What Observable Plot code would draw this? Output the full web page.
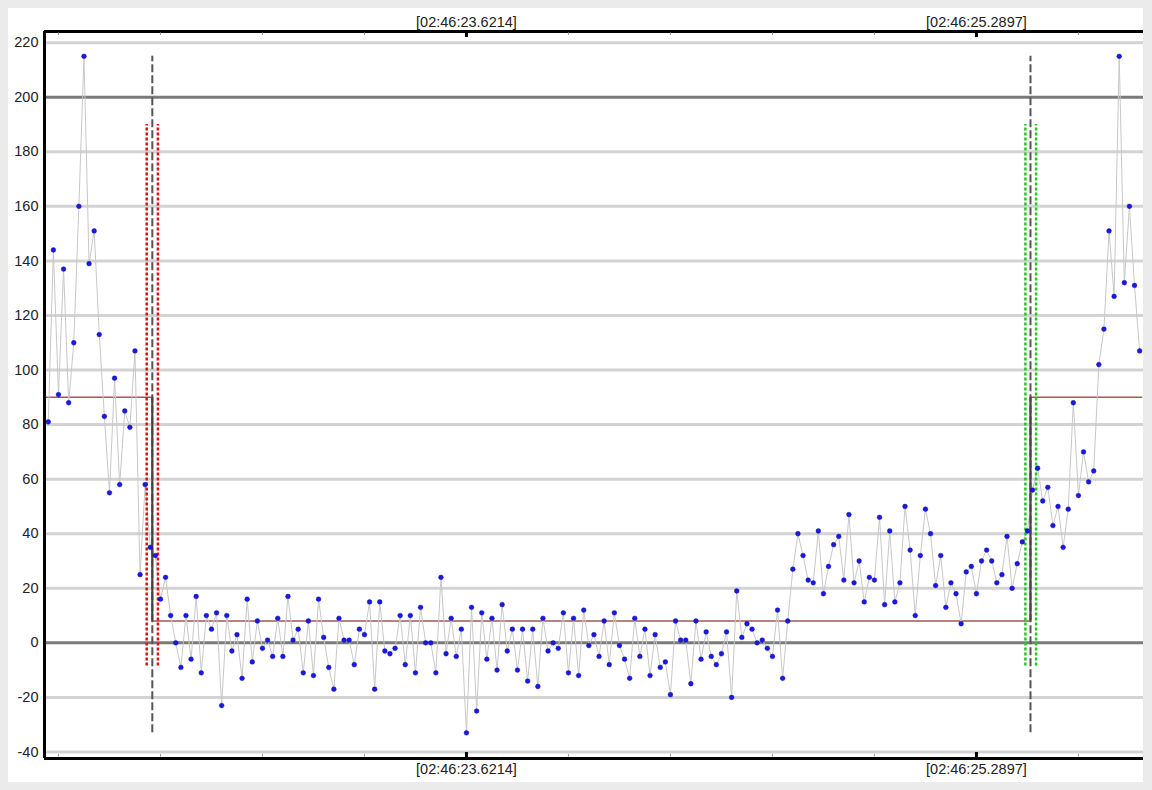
<!DOCTYPE html>
<html>
<head>
<meta charset="utf-8">
<script src="https://cdn.jsdelivr.net/npm/d3@7"></script>
<script src="https://cdn.jsdelivr.net/npm/@observablehq/plot@0.6"></script>
<style>
  html, body { margin: 0; padding: 0; background: #ebebeb; width: 1152px; height: 790px; overflow: hidden; }
  #panel { position: absolute; left: 8px; top: 8px; width: 1135px; height: 774px; background: #ffffff; }
  #chart { position: absolute; left: 0; top: 0; }
</style>
</head>
<body>
<div id="panel"></div>
<div id="chart"></div>
<script>
// ---- data ----
const values = [
  81,144,91,137,88,110,160,215,139,151,113,83,55,97,58,85,79,107,25,58,
  35,32,16,24,10,0,-9,10,-6,17,
  -11,10,5,11,-23,10,-3,3,-13,16,
  -7,8,-2,1,-5,9,-5,17,1,5,
  -11,8,-12,16,2,-9,-17,9,1,1,
  -8,5,3,15,-17,15,-3,-4,-2,10,
  -8,10,-11,13,0,0,-11,24,-4,9,
  -5,5,-33,13,-25,11,-6,9,-10,14,
  -3,5,-10,5,-14,5,-16,9,-3,0,
  -2,11,-11,9,-12,12,-1,3,-5,8,
  -8,11,-1,-6,-13,9,-5,5,-12,3,
  -9,-7,-19,8,1,1,-15,8,-6,4,
  -5,-8,-4,4,-20,19,2,7,5,0,
  1,-2,-5,12,-13,8,27,40,32,23,
  22,41,18,28,36,39,23,47,22,30,
  15,24,23,46,14,41,15,22,50,34,
  10,32,49,40,21,32,13,22,18,7,
  26,28,18,30,34,30,22,25,39,20,
  29,37,41,56,64,52,57,43,50,35,
  49,88,54,70,59,63,102,115,151,127,
  215,132,160,131,107
];
// sample index of the labelled time ticks and their labels
const labelTickIndex = [82, 182];
const labelTickText = ["[02:46:23.6214]", "[02:46:25.2897]"];
const minorTickIndex = [2, 22, 42, 62, 102, 122, 142, 162, 202];
// y ticks
const yTicks = [-40, -20, 0, 20, 40, 60, 80, 100, 120, 140, 160, 180, 200, 220];
const yMajor = [0, 200];
// event markers (sample index)
const eventIndex = [20.4, 192.6];
const redBand = [19.3, 21.5];
const greenBand = [191.6, 193.7];
const bandRange = [-8.5, 190];
// baseline levels (step)
const stepIndex = [-0.75, 20.4, 192.6, 214.4];
const stepLevel = [90, 8, 90, 90];

// ---- build ----
const data = values.map((v, i) => ({i, v}));
const steps = stepIndex.map((x, k) => ({x, y: stepLevel[k]}));
const vmin = d3.min(values), vmax = d3.max(values);
const xDomain = [-0.74, 214.76];
const yDomain = [-42.4, 224.1];
const yTop = yDomain[1], yBot = yDomain[0];
const px = (yDomain[1] - yDomain[0]) / (790 - 31 - 32); // data units per pixel

const chart = Plot.plot({
  width: 1152,
  height: 790,
  marginLeft: 44,
  marginRight: 9,
  marginTop: 31,
  marginBottom: 32,
  style: "background: transparent; font-family: 'Liberation Sans', Arial, sans-serif; color: #222;",
  x: {type: "linear", domain: xDomain},
  y: {type: "linear", domain: yDomain},
  marks: [
    Plot.ruleY(yTicks.filter(d => !yMajor.includes(d)), {stroke: "#d3d3d3", strokeWidth: 3}),
    Plot.ruleY(yMajor, {stroke: "#7a7a7a", strokeWidth: 3}),
    Plot.line(steps, {x: "x", y: "y", curve: "step-after", stroke: "#a05a5a", strokeWidth: 1.6}),
    Plot.line(data, {x: "i", y: "v", stroke: "#c8c8c8", strokeWidth: 1}),
    Plot.ruleX(redBand, {y1: bandRange[0], y2: bandRange[1], stroke: "#e01010", strokeWidth: 2.5, strokeDasharray: "3,2"}),
    Plot.ruleX(greenBand, {y1: bandRange[0], y2: bandRange[1], stroke: "#22c822", strokeWidth: 2.5, strokeDasharray: "3,2"}),
    Plot.ruleX(eventIndex, {y1: vmin, y2: vmax, stroke: "#555", strokeWidth: 2, strokeDasharray: "8,3"}),
    Plot.ruleX(eventIndex, {y1: d3.min(stepLevel), y2: d3.max(stepLevel), stroke: "#444", strokeWidth: 2}),
    Plot.dot(data, {x: "i", y: "v", r: 2.4, fill: "#1818e8", stroke: "#0a0a90", strokeWidth: 0.4}),
    // frame
    Plot.ruleY([yTop], {stroke: "#000", strokeWidth: 3}),
    Plot.ruleY([yBot], {stroke: "#000", strokeWidth: 3}),
    Plot.ruleX([xDomain[0]], {stroke: "#000", strokeWidth: 3}),
    // ticks
    Plot.ruleX(minorTickIndex, {y1: yTop - 1.5 * px, y2: yTop - 4 * px, stroke: "#999", strokeWidth: 1}),
    Plot.ruleX(minorTickIndex, {y1: yBot + 1.5 * px, y2: yBot + 4 * px, stroke: "#999", strokeWidth: 1}),
    Plot.ruleX(labelTickIndex, {y1: yTop, y2: yTop - 6 * px, stroke: "#000", strokeWidth: 3}),
    Plot.ruleX(labelTickIndex, {y1: yBot, y2: yBot + 6 * px, stroke: "#000", strokeWidth: 3}),
    // axes
    Plot.axisY({ticks: yTicks, tickSize: 0, tickPadding: 6, fontSize: 14.5, label: null, tickFormat: d => String(d)}),
    Plot.axisX({anchor: "top", ticks: labelTickIndex, tickSize: 0, tickPadding: 5, fontSize: 14.5, label: null,
      tickFormat: d => labelTickText[labelTickIndex.indexOf(d)]}),
    Plot.axisX({anchor: "bottom", ticks: labelTickIndex, tickSize: 0, tickPadding: 5, fontSize: 14.5, label: null,
      tickFormat: d => labelTickText[labelTickIndex.indexOf(d)]})
  ]
});
document.getElementById("chart").appendChild(chart);
</script>
</body>
</html>
